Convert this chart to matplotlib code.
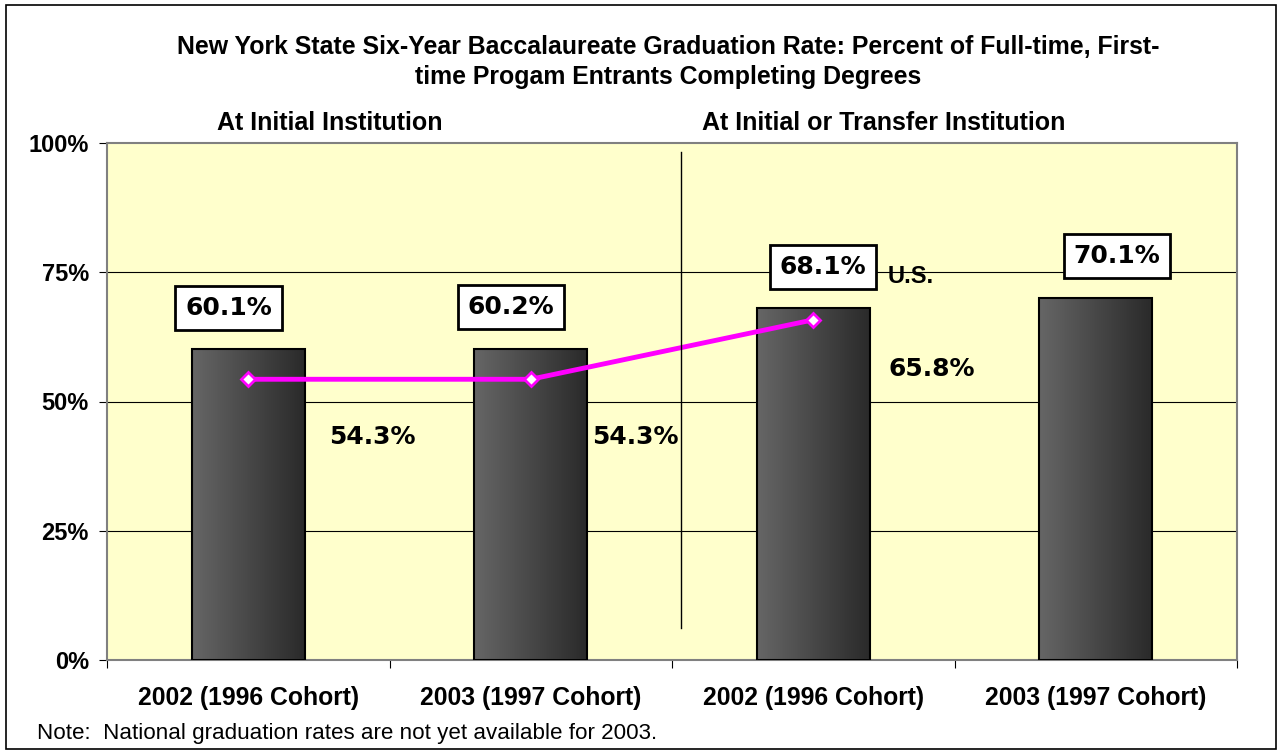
import numpy as np
import matplotlib
matplotlib.use("Agg")
import matplotlib.pyplot as plt
from matplotlib.patches import Rectangle
from matplotlib.colors import LinearSegmentedColormap

categories = ["2002 (1996 Cohort)", "2003 (1997 Cohort)",
              "2002 (1996 Cohort)", "2003 (1997 Cohort)"]
ny_rates = [60.1, 60.2, 68.1, 70.1]
us_rates = [54.3, 54.3, 65.8]
yticks = [0, 25, 50, 75, 100]
ytick_labels = ["0%", "25%", "50%", "75%", "100%"]

title = ("New York State Six-Year Baccalaureate Graduation Rate: Percent of Full-time, First-\n"
         "time Progam Entrants Completing Degrees")
note = "Note:  National graduation rates are not yet available for 2003."

arial = "Liberation Sans"
verd = "DejaVu Sans"

fig = plt.figure(figsize=(12.82, 7.54), dpi=100)
fig.patch.set_facecolor("white")
# outer frame
fig.add_artist(Rectangle((6 / 1282, 5 / 754), 1270 / 1282, 744 / 754,
                         transform=fig.transFigure, fill=False,
                         edgecolor="black", lw=1.2))

ax = fig.add_axes([107 / 1282, 94 / 754, 1130 / 1282, 517 / 754])
ax.set_facecolor("#FFFFCC")

for y in yticks[1:-1]:
    ax.axhline(y, color="black", lw=0.8, zorder=1)

x = np.arange(len(categories))
bars = ax.bar(x, ny_rates, width=0.40, color="none", edgecolor="black",
              lw=1.5, zorder=3)
# gradient fill for the bars
grad = np.linspace(0, 1, 256).reshape(1, -1)
cmap = LinearSegmentedColormap.from_list("g", ["#666666", "#2a2a2a"])
for b in bars:
    im = ax.imshow(grad, cmap=cmap, aspect="auto", zorder=2,
                   extent=[b.get_x(), b.get_x() + b.get_width(), 0, b.get_height()])
    im.set_clip_path(b)
ax.set_xlim(-0.5, 3.5)
ax.set_ylim(0, 100)

# U.S. line
ax.plot(x[:len(us_rates)], us_rates, color="#FF00FF", lw=3.5, zorder=4,
        marker="D", markersize=7, markerfacecolor="white",
        markeredgecolor="#FF00FF", markeredgewidth=2)

# boxed NY value labels
box_dx = [-0.07, -0.07, 0.035, 0.075]
for xi, v, dx in zip(x, ny_rates, box_dx):
    ax.text(xi + dx, v + 8, f"{v:.1f}%", ha="center", va="center",
            fontsize=18, fontweight="bold", family=verd, zorder=6,
            bbox=dict(boxstyle="square,pad=0.4", fc="white", ec="black", lw=2))

# US value labels
us_dx = [0.44, 0.37, 0.42]
us_dy = [-11.2, -11.2, -9.6]
for xi, v, dx, dy in zip(x, us_rates, us_dx, us_dy):
    ax.text(xi + dx, v + dy, f"{v:.1f}%", ha="center", va="center",
            fontsize=18, fontweight="bold", family=verd, zorder=6)
ax.text(2.345, 74.2, "U.S.", ha="center", va="center", fontsize=17,
        fontweight="bold", family=arial, zorder=6)

# divider
ax.plot([1.532, 1.532], [6.2, 98.3], color="black", lw=1.0, zorder=5)

ax.set_yticks(yticks)
ax.set_yticklabels(ytick_labels, fontsize=17, fontweight="bold", family=arial)
ax.set_xticks([-0.5, 0.5, 1.5, 2.5, 3.5])
ax.set_xticklabels([])
ax.set_xticks(x, minor=True)
ax.set_xticklabels(categories, minor=True, fontsize=17.8, fontweight="bold",
                   family=arial)
ax.tick_params(axis="x", which="minor", length=0, pad=19)
ax.tick_params(axis="x", which="major", length=6, direction="out")
ax.tick_params(axis="y", length=6, direction="out", pad=7)
for side in ax.spines:
    ax.spines[side].set_color("#808080")
    ax.spines[side].set_linewidth(1.5)

fig.text(668 / 1282, 1 - 62 / 754, title, ha="center", va="center",
         fontsize=17.9, fontweight="bold", family=arial, linespacing=1.28)
fig.text(330 / 1282, 1 - 123 / 754, "At Initial Institution", ha="center",
         va="center", fontsize=18, fontweight="bold", family=arial)
fig.text(884 / 1282, 1 - 123 / 754, "At Initial or Transfer Institution",
         ha="center", va="center", fontsize=18, fontweight="bold", family=arial)
fig.text(37 / 1282, 1 - 733 / 754, note, ha="left", va="center",
         fontsize=16.1, family=arial)

fig.savefig("out.png", dpi=100)
